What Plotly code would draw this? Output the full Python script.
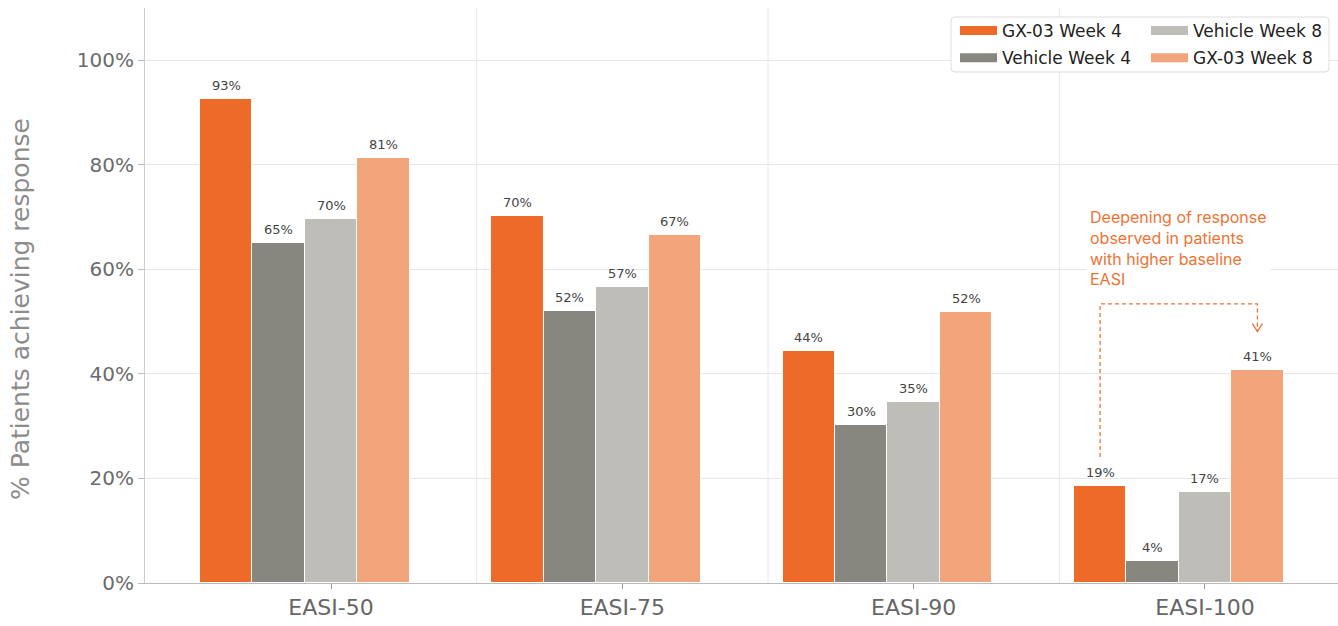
import plotly.graph_objects as go

# ---- data -------------------------------------------------------------
categories = ["EASI-50", "EASI-75", "EASI-90", "EASI-100"]
series_names = ["GX-03 Week 4", "Vehicle Week 4", "Vehicle Week 8", "GX-03 Week 8"]
gx_week4 = [92.6, 70.2, 44.3, 18.6]
vehicle_week4 = [65.1, 52.1, 30.2, 4.2]
vehicle_week8 = [69.6, 56.6, 34.7, 17.4]
gx_week8 = [81.3, 66.6, 51.8, 40.7]
y_tick_values = [0, 20, 40, 60, 80, 100]
y_tick_labels = ["0%", "20%", "40%", "60%", "80%", "100%"]
y_title = "% Patients achieving response"
note_text = "Deepening of response<br>observed in patients<br>with higher baseline<br>EASI"

series_values = [gx_week4, vehicle_week4, vehicle_week8, gx_week8]
colors = ["#EE6A28", "#88877F", "#BEBDB8", "#F2A57A"]
note_color = "#EC7435"

bar_w = 0.18
x_pos = list(range(len(categories)))

fig = go.Figure()

# grouped bars: third series sits on the category tick
for i, (name, vals, col) in enumerate(zip(series_names, series_values, colors)):
    center = (i - 2) * bar_w
    fig.add_trace(go.Bar(
        x=x_pos, y=vals, name=name,
        offset=center - bar_w / 2, width=bar_w,
        marker=dict(color=col, line=dict(color="white", width=1)),
        legendgroup=name, showlegend=False,
        hovertemplate=name + ": %{y:.0f}%<extra></extra>",
    ))
    # value labels above each bar
    for xi, v in zip(x_pos, vals):
        fig.add_annotation(
            x=xi + center, y=v, xref="x", yref="y",
            text=f"{v:.0f}%", showarrow=False,
            yanchor="bottom", yshift=4,
            font=dict(family="DejaVu Sans", size=13, color="#444444"),
        )

# legend swatches (wide rectangles) split across two columns
for i, (name, col) in enumerate(zip(series_names, colors)):
    fig.add_trace(go.Scatter(
        x=[None], y=[None], mode="lines", name=name,
        line=dict(color=col, width=9),
        legendgroup=name, showlegend=True,
        legend="legend" if i < 2 else "legend2",
        hoverinfo="skip",
    ))

# plot area in pixels (for paper-coordinate placement)
W, H = 1338, 626
ml, mr, mt, mb = 145, 0, 8, 43
pw, ph = W - ml - mr, H - mt - mb

def px_x(p):
    return (p - ml) / pw

def px_y(p):
    return (H - mb - p) / ph

legend_font = dict(family="DejaVu Sans", size=17, color="#222222")
common_legend = dict(
    bgcolor="rgba(0,0,0,0)", borderwidth=0, font=legend_font,
    xanchor="left", yanchor="top", orientation="v",
    tracegroupgap=2, itemwidth=37,
)
fig.update_layout(
    legend=dict(x=px_x(955), y=px_y(13), **common_legend),
    legend2=dict(x=px_x(1146), y=px_y(13), **common_legend),
)

# legend frame with rounded corners
x0, x1, y0, y1 = px_x(951), px_x(1329), px_y(72), px_y(17)
rx, ry = 4 / pw, 4 / ph
frame = (f"M{x0+rx},{y0} L{x1-rx},{y0} Q{x1},{y0} {x1},{y0+ry} "
         f"L{x1},{y1-ry} Q{x1},{y1} {x1-rx},{y1} L{x0+rx},{y1} "
         f"Q{x0},{y1} {x0},{y1-ry} L{x0},{y0+ry} Q{x0},{y0} {x0+rx},{y0} Z")
shapes = [dict(type="path", path=frame, xref="paper", yref="paper",
               fillcolor="white", line=dict(color="#DDDDDD", width=1),
               layer="above")]

# vertical separators between categories
for k in range(len(categories) - 1):
    shapes.append(dict(type="line", xref="x", yref="paper",
                       x0=k + 0.5, x1=k + 0.5, y0=0, y1=1,
                       line=dict(color="#E6E6E6", width=1), layer="below"))

# dashed bracket arrow from the week-4 bar to the week-8 bar of the last category
last = len(categories) - 1
xs = last + (0 - 2) * bar_w
xe = last + (3 - 2) * bar_w
y_start = gx_week4[last] + 5.5
y_top = 53.4
y_tip = gx_week8[last] + 7.4
shapes.append(dict(type="path", xref="x", yref="y",
                   path=f"M{xs},{y_start} L{xs},{y_top} L{xe},{y_top} L{xe},{y_tip}",
                   line=dict(color=note_color, width=1.3, dash="4px,3px"),
                   layer="above"))
dx, dy = 5 / (pw / 4.095), 8 / (ph / 110)
shapes.append(dict(type="path", xref="x", yref="y",
                   path=f"M{xe-dx},{y_tip+dy} L{xe},{y_tip} L{xe+dx},{y_tip+dy}",
                   line=dict(color=note_color, width=1.3), layer="above"))

fig.add_annotation(
    x=px_x(1086), y=px_y(203), xref="paper", yref="paper",
    xanchor="left", yanchor="top", align="left", showarrow=False,
    text=note_text, bgcolor="white", borderpad=3,
    font=dict(family="Inter", size=16, color=note_color),
)

# y-axis title
fig.add_annotation(
    x=px_x(20), y=px_y(309), xref="paper", yref="paper",
    xanchor="center", yanchor="middle", textangle=-90, showarrow=False,
    text=y_title,
    font=dict(family="DejaVu Sans", size=25, color="#8C8C8C"),
)

fig.update_layout(
    width=W, height=H,
    margin=dict(l=ml, r=mr, t=mt, b=mb, autoexpand=False),
    paper_bgcolor="white", plot_bgcolor="white",
    barmode="overlay", bargap=0,
    shapes=shapes,
    font=dict(family="DejaVu Sans", color="#666666"),
    xaxis=dict(
        range=[-0.6385, 3.4566], tickvals=x_pos, ticktext=categories,
        showgrid=False, zeroline=False,
        showline=True, linecolor="#BBBBBB", linewidth=1,
        ticks="outside", ticklen=5, tickcolor="#999999",
        tickfont=dict(family="DejaVu Sans", size=22, color="#666666"),
    ),
    yaxis=dict(
        range=[0, 110], tickvals=y_tick_values, ticktext=y_tick_labels,
        showgrid=True, gridcolor="#E6E6E6", gridwidth=1, zeroline=False,
        showline=True, linecolor="#CCCCCC", linewidth=1,
        ticks="outside", ticklen=6, tickcolor="#BBBBBB",
        tickfont=dict(family="DejaVu Sans", size=20, color="#6B6B6B"),
    ),
)

fig.write_html("out.html")
